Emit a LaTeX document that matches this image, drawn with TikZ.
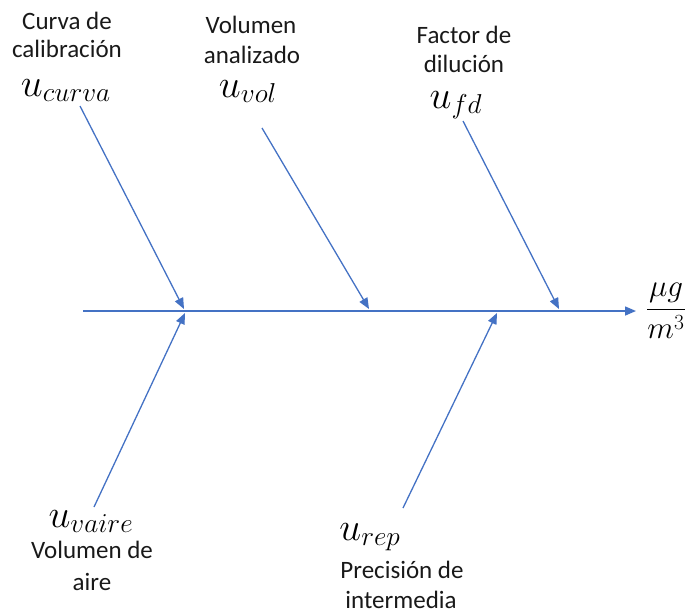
\documentclass[tikz,border=0pt]{standalone}
\usepackage{amsmath}
\usepackage{fontspec}
\setmainfont{Carlito}
\usepackage{xcolor}
\usepackage{tikz}
\usetikzlibrary{arrows.meta}

\definecolor{bonecol}{HTML}{4472C4}
\newcommand{\bigunc}[1]{\scalebox{1.58}{$#1$}}

\begin{document}
\begin{tikzpicture}[
    x=1pt, y=-1pt,
    cause/.style={font=\fontsize{25}{30}\selectfont, anchor=base, inner sep=0pt, text=black!90},
    unc/.style={font=\fontsize{24}{30}\selectfont, anchor=base, inner sep=0pt},
    spine/.style={draw=bonecol, line width=1.5pt, -{Triangle[length=11pt, width=9pt]}},
    bone/.style={draw=bonecol, line width=1.3pt, -{Triangle[length=11pt, width=9pt]}}
]
\useasboundingbox (0,0) rectangle (692,614);

% Spine and result
\coordinate (tail) at (83,311);
\node[font=\fontsize{24}{30}\selectfont, inner sep=0pt] (res) at (666,311) {\scalebox{1.25}{$\dfrac{\mu g}{m^{3}}$}};
\coordinate (head) at (636,311);
\draw[spine] (tail) -- (head);

% Upper causes
\node[cause] (curva1) at (67,29) {Curva de};
\node[cause] (curva2) at (67,57) {calibración};
\node[unc]   (ucurva) at (66,96) {\bigunc{u_{curva}}};

\node[cause] (vol1) at (251,33) {Volumen};
\node[cause] (vol2) at (252,63) {analizado};
\node[unc]   (uvol) at (248,97) {\bigunc{u_{vol}}};

\node[cause] (fd1) at (464,43) {Factor de};
\node[cause] (fd2) at (464,72) {dilución};
\node[unc]   (ufd) at (456,108) {\bigunc{u_{fd}}};

% Lower causes
\node[unc]   (uvaire) at (91,527) {\bigunc{u_{vaire}}};
\node[cause] (vaire1) at (92,558) {Volumen de};
\node[cause] (vaire2) at (92,590) {aire};

\node[unc]   (urep) at (370,540) {\bigunc{u_{rep}}};
\node[cause] (rep1) at (402,578) {Precisión de};
\node[cause] (rep2) at (401,608) {intermedia};

% Bone ends
\coordinate (curvaroot) at (80,106);
\coordinate (curvatip)  at (184,309);
\coordinate (volroot)   at (262,128);
\coordinate (voltip)    at (369,309);
\coordinate (fdroot)    at (463,121);
\coordinate (fdtip)     at (559,309);
\coordinate (vaireroot) at (94,507);
\coordinate (vairetip)  at (185,313);
\coordinate (reproot)   at (403,508);
\coordinate (reptip)    at (497,313);

\draw[bone] (curvaroot) -- (curvatip);
\draw[bone] (volroot)   -- (voltip);
\draw[bone] (fdroot)    -- (fdtip);
\draw[bone] (vaireroot) -- (vairetip);
\draw[bone] (reproot)   -- (reptip);

\end{tikzpicture}
\end{document}
